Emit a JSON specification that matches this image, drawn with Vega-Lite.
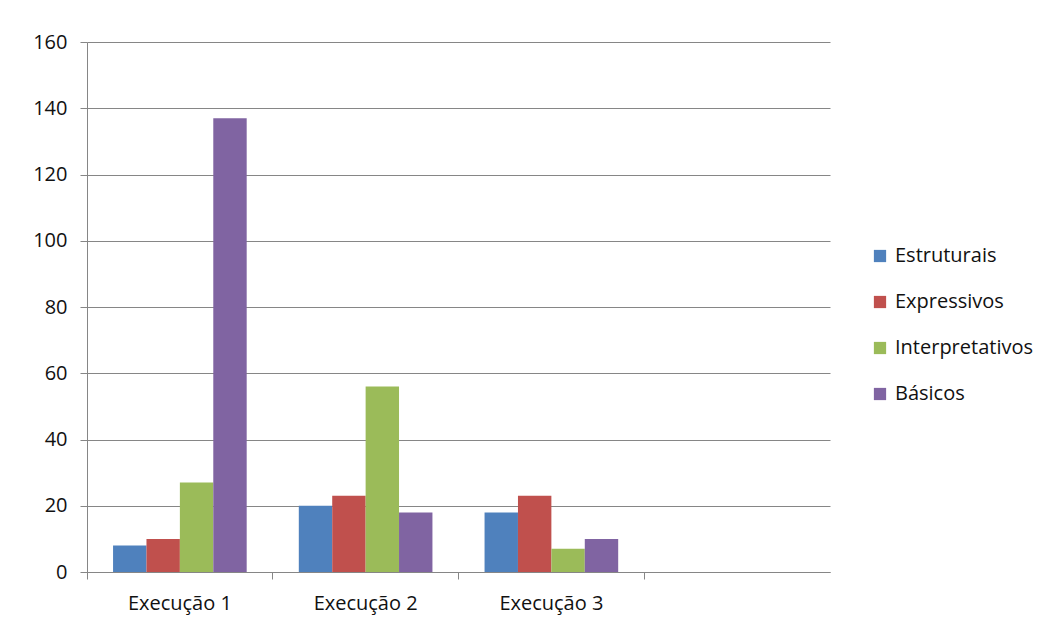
{
  "$schema": "https://vega.github.io/schema/vega-lite/v6.json",
  "width": 743,
  "height": 530,
  "autosize": {"type": "none"},
  "padding": {"left": 87, "top": 42, "right": 231, "bottom": 56},
  "background": "white",
  "data": {
    "values": [
      {"execucao": "Execução 1", "tipo": "Estruturais", "valor": 8},
      {"execucao": "Execução 1", "tipo": "Expressivos", "valor": 10},
      {"execucao": "Execução 1", "tipo": "Interpretativos", "valor": 27},
      {"execucao": "Execução 1", "tipo": "Básicos", "valor": 137},
      {"execucao": "Execução 2", "tipo": "Estruturais", "valor": 20},
      {"execucao": "Execução 2", "tipo": "Expressivos", "valor": 23},
      {"execucao": "Execução 2", "tipo": "Interpretativos", "valor": 56},
      {"execucao": "Execução 2", "tipo": "Básicos", "valor": 18},
      {"execucao": "Execução 3", "tipo": "Estruturais", "valor": 18},
      {"execucao": "Execução 3", "tipo": "Expressivos", "valor": 23},
      {"execucao": "Execução 3", "tipo": "Interpretativos", "valor": 7},
      {"execucao": "Execução 3", "tipo": "Básicos", "valor": 10}
    ]
  },
  "mark": {"type": "bar"},
  "encoding": {
    "x": {
      "field": "execucao",
      "type": "nominal",
      "scale": {"domain": ["Execução 1", "Execução 2", "Execução 3", " "], "paddingInner": 0, "paddingOuter": 0},
      "axis": {
        "title": null,
        "labelAngle": 0,
        "bandPosition": 0,
        "ticks": true,
        "tickSize": 7,
        "tickColor": "#868686",
        "domainColor": "#868686",
        "labelPadding": 14,
        "labelFontSize": 20,
        "labelFont": "Open Sans",
        "labelColor": "#111111",
        "grid": false
      }
    },
    "xOffset": {
      "field": "tipo",
      "type": "nominal",
      "sort": ["Estruturais", "Expressivos", "Interpretativos", "Básicos"],
      "scale": {"paddingInner": 0, "paddingOuter": 0.78}
    },
    "y": {
      "field": "valor",
      "type": "quantitative",
      "scale": {"domain": [0, 160]},
      "axis": {
        "title": null,
        "values": [0, 20, 40, 60, 80, 100, 120, 140, 160],
        "tickSize": 7,
        "tickColor": "#868686",
        "domainColor": "#868686",
        "gridColor": "#868686",
        "labelPadding": 13,
        "labelFontSize": 20,
        "labelFont": "Open Sans",
        "labelColor": "#111111"
      }
    },
    "color": {
      "field": "tipo",
      "type": "nominal",
      "sort": ["Estruturais", "Expressivos", "Interpretativos", "Básicos"],
      "scale": {
        "domain": ["Estruturais", "Expressivos", "Interpretativos", "Básicos"],
        "range": ["#4F81BD", "#C0504D", "#9BBB59", "#8064A2"]
      },
      "legend": {
        "title": null,
        "orient": "none",
        "legendX": 783,
        "legendY": 204,
        "symbolType": "square",
        "symbolSize": 150,
        "symbolStrokeWidth": 0,
        "labelFontSize": 20,
        "labelFont": "Open Sans",
        "labelColor": "#111111",
        "rowPadding": 26,
        "labelOffset": 5
      }
    }
  },
  "config": {
    "view": {"stroke": null}
  }
}
